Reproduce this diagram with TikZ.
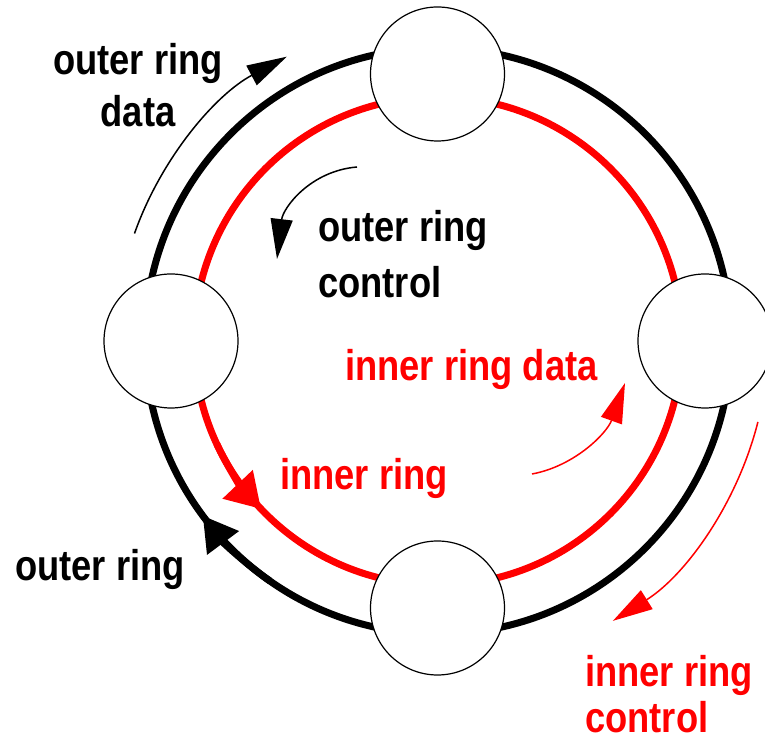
\documentclass[tikz,border=0pt]{standalone}
\usepackage{fontspec}
\setmainfont{Liberation Sans}[FakeStretch=0.845]
\usetikzlibrary{arrows.meta}
\begin{document}
\begin{tikzpicture}[x=1pt,y=1pt,
  station/.style={circle,draw=black,line width=1.2pt,fill=white,minimum size=134pt,inner sep=0pt},
  ringline/.style={line width=7pt},
  thinarrow/.style={line width=1.5pt,-{Triangle[length=40pt,width=22pt]}},
  lbl/.style={font=\bfseries\fontsize{43}{52}\selectfont,inner sep=0pt}]
\useasboundingbox (0,0) rectangle (765,743);
\coordinate (c) at (438,402);
% rings
\draw[ringline] (c) circle[radius=293];
\draw[ringline,red] (c) circle[radius=244];
\draw[ringline,red,-{Triangle[length=34pt,width=40pt]}] ([shift={(205:244)}]c) arc[start angle=205,end angle=223.5,radius=244];
\draw[ringline,-{Triangle[length=34pt,width=38pt]}] ([shift={(235:293)}]c) arc[start angle=235,end angle=216.6,radius=293];
% stations
\node[station] (top) at (437.5,669) {};
\node[station] (left) at (171,402) {};
\node[station] (right) at (705,402) {};
\node[station] (bottom) at (437.5,135) {};
% flow arrows
\draw[thinarrow] ([shift={(160.5:322)}]c) arc[start angle=160.5,end angle=118,radius=322];
\draw[thinarrow] (357,576) .. controls (310,572) and (283,535) .. (277,484);
\draw[thinarrow,red] (532,269) .. controls (575,277) and (607,310) .. (625,360);
\draw[thinarrow,red] ([shift={(-14.2:330)}]c) arc[start angle=-14.2,end angle=-58,radius=330];
% labels (base anchor = baseline of last line)
\node[lbl,align=center,anchor=base] (ord) at (138,616) {outer ring\\data};
\node[lbl,align=left,anchor=base west] (orc) at (318,445) {outer ring\\[4pt]control};
\node[lbl,red,anchor=base west] (ird) at (345,362) {inner ring data};
\node[lbl,red,anchor=base west] (ir) at (280,253) {inner ring};
\node[lbl,anchor=base west] (or) at (15,162) {outer ring};
\node[lbl,red,align=left,anchor=base west] (irc) at (585,10) {inner ring\\[-6pt]control};
\end{tikzpicture}
\end{document}
